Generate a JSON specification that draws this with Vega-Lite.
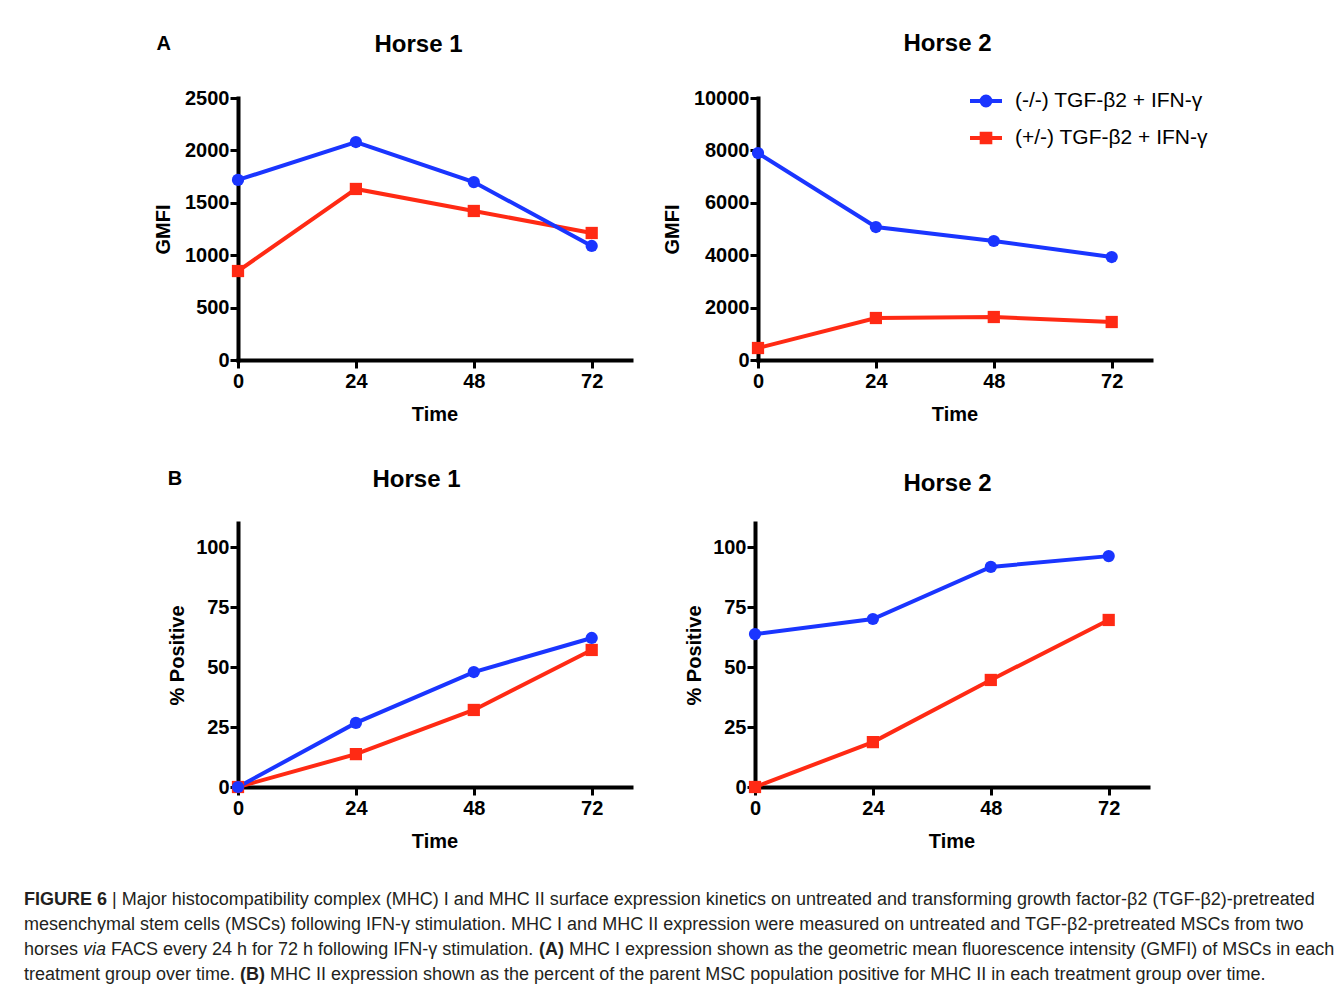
{
  "$schema": "https://vega.github.io/schema/vega-lite/v6.json",
  "padding": {"left": 24, "top": 32, "right": 5, "bottom": 5},
  "autosize": {"type": "pad"},
  "background": "white",
  "data": {"values": [
    {"panel": "A1", "series": "(+/-) TGF-β2 + IFN-γ", "time": 0, "value": 849},
    {"panel": "A1", "series": "(+/-) TGF-β2 + IFN-γ", "time": 24, "value": 1632},
    {"panel": "A1", "series": "(+/-) TGF-β2 + IFN-γ", "time": 48, "value": 1422},
    {"panel": "A1", "series": "(+/-) TGF-β2 + IFN-γ", "time": 72, "value": 1212},
    {"panel": "A1", "series": "(-/-) TGF-β2 + IFN-γ", "time": 0, "value": 1718},
    {"panel": "A1", "series": "(-/-) TGF-β2 + IFN-γ", "time": 24, "value": 2080},
    {"panel": "A1", "series": "(-/-) TGF-β2 + IFN-γ", "time": 48, "value": 1698},
    {"panel": "A1", "series": "(-/-) TGF-β2 + IFN-γ", "time": 72, "value": 1088},
    {"panel": "A2", "series": "(+/-) TGF-β2 + IFN-γ", "time": 0, "value": 458},
    {"panel": "A2", "series": "(+/-) TGF-β2 + IFN-γ", "time": 24, "value": 1603},
    {"panel": "A2", "series": "(+/-) TGF-β2 + IFN-γ", "time": 48, "value": 1641},
    {"panel": "A2", "series": "(+/-) TGF-β2 + IFN-γ", "time": 72, "value": 1450},
    {"panel": "A2", "series": "(-/-) TGF-β2 + IFN-γ", "time": 0, "value": 7900},
    {"panel": "A2", "series": "(-/-) TGF-β2 + IFN-γ", "time": 24, "value": 5076},
    {"panel": "A2", "series": "(-/-) TGF-β2 + IFN-γ", "time": 48, "value": 4542},
    {"panel": "A2", "series": "(-/-) TGF-β2 + IFN-γ", "time": 72, "value": 3931},
    {"panel": "B1", "series": "(+/-) TGF-β2 + IFN-γ", "time": 0, "value": 0},
    {"panel": "B1", "series": "(+/-) TGF-β2 + IFN-γ", "time": 24, "value": 13.7},
    {"panel": "B1", "series": "(+/-) TGF-β2 + IFN-γ", "time": 48, "value": 32.1},
    {"panel": "B1", "series": "(+/-) TGF-β2 + IFN-γ", "time": 72, "value": 57.1},
    {"panel": "B1", "series": "(-/-) TGF-β2 + IFN-γ", "time": 0, "value": 0},
    {"panel": "B1", "series": "(-/-) TGF-β2 + IFN-γ", "time": 24, "value": 26.7},
    {"panel": "B1", "series": "(-/-) TGF-β2 + IFN-γ", "time": 48, "value": 47.9},
    {"panel": "B1", "series": "(-/-) TGF-β2 + IFN-γ", "time": 72, "value": 62.1},
    {"panel": "B2", "series": "(+/-) TGF-β2 + IFN-γ", "time": 0, "value": 0},
    {"panel": "B2", "series": "(+/-) TGF-β2 + IFN-γ", "time": 24, "value": 18.7},
    {"panel": "B2", "series": "(+/-) TGF-β2 + IFN-γ", "time": 48, "value": 44.6},
    {"panel": "B2", "series": "(+/-) TGF-β2 + IFN-γ", "time": 72, "value": 69.6},
    {"panel": "B2", "series": "(-/-) TGF-β2 + IFN-γ", "time": 0, "value": 63.7},
    {"panel": "B2", "series": "(-/-) TGF-β2 + IFN-γ", "time": 24, "value": 70},
    {"panel": "B2", "series": "(-/-) TGF-β2 + IFN-γ", "time": 48, "value": 91.7},
    {"panel": "B2", "series": "(-/-) TGF-β2 + IFN-γ", "time": 72, "value": 96.2}
  ]},
  "bounds": "flush",
  "spacing": 789,
  "resolve": {"scale": {"color": "independent", "shape": "independent", "fill": "independent", "stroke": "independent"}},
  "vconcat": [
    {
      "bounds": "flush",
      "spacing": 425,
      "resolve": {"scale": {"color": "independent", "shape": "independent", "fill": "independent", "stroke": "independent"}},
      "vconcat": [
        {
          "title": {"text": "A", "anchor": "start", "frame": "bounds", "offset": -22, "dx": 3, "fontSize": 20},
          "bounds": "flush",
          "spacing": 127,
          "resolve": {"scale": {"color": "independent", "shape": "independent", "fill": "independent", "stroke": "independent"}},
          "hconcat": [
            {
              "title": {"text": "Horse 1", "dx": -16, "offset": 31},
              "width": 393, "height": 262,
              "transform": [{"filter": "datum.panel === 'A1'"}],
              "encoding": {
                "x": {"field": "time", "type": "quantitative", "scale": {"domain": [0, 80], "nice": false}, "axis": {"values": [0, 24, 48, 72], "title": "Time"}},
                "y": {"field": "value", "type": "quantitative", "scale": {"domain": [0, 2500], "nice": false}, "axis": {"values": [0, 500, 1000, 1500, 2000, 2500], "format": "d", "title": "GMFI", "titlePadding": 11}},
                "color": {"field": "series", "type": "nominal", "scale": {"domain": ["(-/-) TGF-β2 + IFN-γ", "(+/-) TGF-β2 + IFN-γ"], "range": ["#1a35ff", "#ff2a14"]}, "legend": null}
              },
              "layer": [
                {"mark": {"type": "line", "strokeWidth": 4}},
                {"mark": {"type": "point", "filled": true, "opacity": 1, "size": 150}, "encoding": {"shape": {"field": "series", "type": "nominal", "scale": {"domain": ["(-/-) TGF-β2 + IFN-γ", "(+/-) TGF-β2 + IFN-γ"], "range": ["circle", "square"]}, "legend": null}}}
              ]
            },
            {
              "title": {"text": "Horse 2", "dx": -7, "offset": 27},
              "width": 393, "height": 262,
              "transform": [{"filter": "datum.panel === 'A2'"}],
              "encoding": {
                "x": {"field": "time", "type": "quantitative", "scale": {"domain": [0, 80], "nice": false}, "axis": {"values": [0, 24, 48, 72], "title": "Time"}},
                "y": {"field": "value", "type": "quantitative", "scale": {"domain": [0, 10000], "nice": false}, "axis": {"values": [0, 2000, 4000, 6000, 8000, 10000], "format": "d", "title": "GMFI", "titlePadding": 11}}
              },
              "resolve": {"scale": {"shape": "independent", "fill": "independent", "stroke": "independent"}},
              "layer": [
                {"mark": {"type": "line", "strokeWidth": 4},
                 "encoding": {"color": {"field": "series", "type": "nominal", "scale": {"domain": ["(-/-) TGF-β2 + IFN-γ", "(+/-) TGF-β2 + IFN-γ"], "range": ["#1a35ff", "#ff2a14"]}, "legend": null}}},
                {"mark": {"type": "point", "filled": true, "opacity": 1, "size": 150},
                 "encoding": {
                   "color": {"field": "series", "type": "nominal", "scale": {"domain": ["(-/-) TGF-β2 + IFN-γ", "(+/-) TGF-β2 + IFN-γ"], "range": ["#1a35ff", "#ff2a14"]}, "legend": null},
                   "shape": {"field": "series", "type": "nominal", "scale": {"domain": ["(-/-) TGF-β2 + IFN-γ", "(+/-) TGF-β2 + IFN-γ"], "range": ["circle", "square"]}, "legend": null}}},
                {"transform": [{"filter": "datum.time < 0"}],
                 "mark": {"type": "point", "filled": true, "opacity": 1, "strokeWidth": 4},
                 "encoding": {
                   "fill": {"field": "series", "type": "nominal", "scale": {"domain": ["(-/-) TGF-β2 + IFN-γ", "(+/-) TGF-β2 + IFN-γ"], "range": ["#1a35ff", "#ff2a14"]},
                     "legend": {"orient": "none", "legendX": 210, "legendY": -15, "title": null, "symbolSize": 1024, "symbolStrokeWidth": 4, "labelFont": "Liberation Sans", "labelFontSize": 21, "labelFontWeight": "normal", "labelColor": "#000", "labelOffset": 11, "rowPadding": 6, "labelLimit": 400}},
                   "stroke": {"field": "series", "type": "nominal", "scale": {"domain": ["(-/-) TGF-β2 + IFN-γ", "(+/-) TGF-β2 + IFN-γ"], "range": ["#1a35ff", "#ff2a14"]},
                     "legend": {"orient": "none", "legendX": 210, "legendY": -15, "title": null, "symbolSize": 1024, "symbolStrokeWidth": 4, "labelFont": "Liberation Sans", "labelFontSize": 21, "labelFontWeight": "normal", "labelColor": "#000", "labelOffset": 11, "rowPadding": 6, "labelLimit": 400}},
                   "shape": {"field": "series", "type": "nominal", "scale": {"domain": ["(-/-) TGF-β2 + IFN-γ", "(+/-) TGF-β2 + IFN-γ"], "range": ["M-1,0H1M-0.28,0A0.28,0.28,0,1,1,0.28,0A0.28,0.28,0,1,1,-0.28,0Z", "M-1,0H1M-0.27,-0.27H0.27V0.27H-0.27Z"]},
                     "legend": {"orient": "none", "legendX": 210, "legendY": -15, "title": null, "symbolSize": 1024, "symbolStrokeWidth": 4, "labelFont": "Liberation Sans", "labelFontSize": 21, "labelFontWeight": "normal", "labelColor": "#000", "labelOffset": 11, "rowPadding": 6, "labelLimit": 400}}
                 }}
              ]
            }
          ]
        },
        {
          "title": {"text": "B", "anchor": "start", "frame": "bounds", "offset": -21, "fontSize": 20},
          "bounds": "flush",
          "spacing": 124,
          "resolve": {"scale": {"color": "independent", "shape": "independent", "fill": "independent", "stroke": "independent"}},
          "hconcat": [
            {
              "title": {"text": "Horse 1", "dx": -18, "offset": 31},
              "width": 393, "height": 264,
              "transform": [{"filter": "datum.panel === 'B1'"}],
              "encoding": {
                "x": {"field": "time", "type": "quantitative", "scale": {"domain": [0, 80], "nice": false}, "axis": {"values": [0, 24, 48, 72], "title": "Time"}},
                "y": {"field": "value", "type": "quantitative", "scale": {"domain": [0, 110], "nice": false}, "axis": {"values": [0, 25, 50, 75, 100], "title": "% Positive"}},
                "color": {"field": "series", "type": "nominal", "scale": {"domain": ["(-/-) TGF-β2 + IFN-γ", "(+/-) TGF-β2 + IFN-γ"], "range": ["#1a35ff", "#ff2a14"]}, "legend": null}
              },
              "layer": [
                {"mark": {"type": "line", "strokeWidth": 4}},
                {"mark": {"type": "point", "filled": true, "opacity": 1, "size": 150}, "encoding": {"shape": {"field": "series", "type": "nominal", "scale": {"domain": ["(-/-) TGF-β2 + IFN-γ", "(+/-) TGF-β2 + IFN-γ"], "range": ["circle", "square"]}, "legend": null}}}
              ]
            },
            {
              "title": {"text": "Horse 2", "dx": -4, "offset": 27},
              "width": 393, "height": 264,
              "transform": [{"filter": "datum.panel === 'B2'"}],
              "encoding": {
                "x": {"field": "time", "type": "quantitative", "scale": {"domain": [0, 80], "nice": false}, "axis": {"values": [0, 24, 48, 72], "title": "Time"}},
                "y": {"field": "value", "type": "quantitative", "scale": {"domain": [0, 110], "nice": false}, "axis": {"values": [0, 25, 50, 75, 100], "title": "% Positive"}},
                "color": {"field": "series", "type": "nominal", "scale": {"domain": ["(-/-) TGF-β2 + IFN-γ", "(+/-) TGF-β2 + IFN-γ"], "range": ["#1a35ff", "#ff2a14"]}, "legend": null}
              },
              "layer": [
                {"mark": {"type": "line", "strokeWidth": 4}},
                {"mark": {"type": "point", "filled": true, "opacity": 1, "size": 150}, "encoding": {"shape": {"field": "series", "type": "nominal", "scale": {"domain": ["(-/-) TGF-β2 + IFN-γ", "(+/-) TGF-β2 + IFN-γ"], "range": ["circle", "square"]}, "legend": null}}}
              ]
            }
          ]
        }
      ]
    },
    {
      "width": 1000,
      "height": {"step": 25},
      "data": {"values": [
        {"line": 1, "part": "fig", "text": "FIGURE 6"},
        {"line": 1, "part": "l1rest", "text": "| Major histocompatibility complex (MHC) I and MHC II surface expression kinetics on untreated and transforming growth factor-β2 (TGF-β2)-pretreated"},
        {"line": 2, "part": "start", "text": "mesenchymal stem cells (MSCs) following IFN-γ stimulation. MHC I and MHC II expression were measured on untreated and TGF-β2-pretreated MSCs from two"},
        {"line": 3, "part": "start", "text": "horses"},
        {"line": 3, "part": "via", "text": "via"},
        {"line": 3, "part": "l3mid", "text": "FACS every 24 h for 72 h following IFN-γ stimulation."},
        {"line": 3, "part": "A", "text": "(A)"},
        {"line": 3, "part": "l3rest", "text": "MHC I expression shown as the geometric mean fluorescence intensity (GMFI) of MSCs in each"},
        {"line": 4, "part": "start", "text": "treatment group over time."},
        {"line": 4, "part": "B", "text": "(B)"},
        {"line": 4, "part": "l4rest", "text": "MHC II expression shown as the percent of the parent MSC population positive for MHC II in each treatment group over time."}
      ]},
      "encoding": {
        "x": {"datum": 0, "type": "quantitative", "scale": {"domain": [0, 1]}, "axis": null},
        "y": {"field": "line", "type": "ordinal", "axis": null},
        "text": {"field": "text", "type": "nominal"}
      },
      "layer": [
        {"transform": [{"filter": "datum.part === 'start'"}], "mark": {"type": "text", "align": "left", "baseline": "middle", "font": "Liberation Sans", "fontSize": 18, "color": "#231f20", "dx": -214}},
        {"transform": [{"filter": "datum.part === 'fig'"}], "mark": {"type": "text", "align": "left", "baseline": "middle", "font": "Liberation Sans", "fontSize": 18, "fontWeight": "bold", "color": "#231f20", "dx": -214}},
        {"transform": [{"filter": "datum.part === 'l1rest'"}], "mark": {"type": "text", "align": "left", "baseline": "middle", "font": "Liberation Sans", "fontSize": 18, "color": "#231f20", "dx": -126}},
        {"transform": [{"filter": "datum.part === 'via'"}], "mark": {"type": "text", "align": "left", "baseline": "middle", "font": "Liberation Sans", "fontSize": 18, "fontStyle": "italic", "color": "#231f20", "dx": -155}},
        {"transform": [{"filter": "datum.part === 'l3mid'"}], "mark": {"type": "text", "align": "left", "baseline": "middle", "font": "Liberation Sans", "fontSize": 18, "color": "#231f20", "dx": -127}},
        {"transform": [{"filter": "datum.part === 'A'"}], "mark": {"type": "text", "align": "left", "baseline": "middle", "font": "Liberation Sans", "fontSize": 18, "fontWeight": "bold", "color": "#231f20", "dx": 301}},
        {"transform": [{"filter": "datum.part === 'l3rest'"}], "mark": {"type": "text", "align": "left", "baseline": "middle", "font": "Liberation Sans", "fontSize": 18, "color": "#231f20", "dx": 331}},
        {"transform": [{"filter": "datum.part === 'B'"}], "mark": {"type": "text", "align": "left", "baseline": "middle", "font": "Liberation Sans", "fontSize": 18, "fontWeight": "bold", "color": "#231f20", "dx": 2}},
        {"transform": [{"filter": "datum.part === 'l4rest'"}], "mark": {"type": "text", "align": "left", "baseline": "middle", "font": "Liberation Sans", "fontSize": 18, "color": "#231f20", "dx": 32}}
      ]
    }
  ],
  "config": {
    "view": {"stroke": null},
    "axis": {
      "grid": false,
      "domainColor": "#000", "domainWidth": 4, "domainCap": "square",
      "tickColor": "#000", "tickWidth": 3, "tickSize": 8,
      "labelFont": "Liberation Sans", "labelFontWeight": "bold", "labelFontSize": 20, "labelColor": "#000", "labelFlush": false, "labelPadding": 1,
      "titleFont": "Liberation Sans", "titleFontWeight": "bold", "titleFontSize": 20, "titleColor": "#000"
    },
    "axisX": {"titlePadding": 13, "labelPadding": 3},
    "axisY": {"titlePadding": 8},
    "title": {"font": "Liberation Sans", "fontSize": 24, "fontWeight": "bold", "color": "#000", "baseline": "alphabetic"}
  }
}
